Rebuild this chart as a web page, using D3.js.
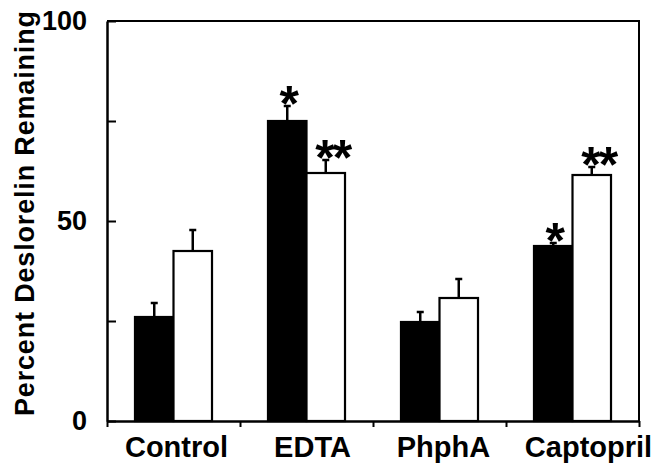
<!DOCTYPE html>
<html><head><meta charset="utf-8">
<script src="https://cdn.jsdelivr.net/npm/d3@7"></script>
<style>body{margin:0;background:#fff}svg{display:block}</style>
</head><body><svg id="c" width="665" height="466"></svg>
<script>
const categories = ["Control", "EDTA", "PhphA", "Captopril"];
const series = ["filled", "open"];
const filledValues = [26, 75, 24.75, 43.75];
const filledErrors = [3.5, 3.75, 2.5, 0.75];
const openValues = [42.5, 62, 30.75, 61.5];
const openErrors = [5.25, 3.25, 4.75, 2];
const filledMarks = ["", "*", "", "*"];
const openMarks = ["", "**", "", "**"];
const yTickValues = [0, 25, 50, 75, 100];
const yTickLabels = ["0", "", "50", "", "100"];
const yTitle = "Percent Deslorelin Remaining";

const W = 665, H = 466;
const m = {left: 107, top: 21, right: 26, bottom: 45};
const svg = d3.select("#c");
const font = "'Liberation Sans', Arial, Helvetica, sans-serif";

const x0 = d3.scaleBand().domain(categories).range([m.left, W - m.right]).padding(0);
const x1 = d3.scaleBand().domain(series).range([0, x0.bandwidth()]).paddingInner(0).paddingOuter(0.727);
const y = d3.scaleLinear().domain([0, 100]).range([H - m.bottom, m.top]);

const rows = categories.map((c, i) => ({
  cat: c,
  bars: [
    {s: "filled", v: filledValues[i], e: filledErrors[i], mark: filledMarks[i]},
    {s: "open", v: openValues[i], e: openErrors[i], mark: openMarks[i]}
  ]
}));

const g = svg.append("g");
const grp = g.selectAll("g.cat").data(rows).join("g")
  .attr("transform", d => `translate(${x0(d.cat)},0)`);

// error bars
grp.selectAll("g.err").data(d => d.bars).join("g").each(function(d) {
  const cx = x1(d.s) + x1.bandwidth() / 2;
  const s = d3.select(this);
  s.append("line").attr("x1", cx).attr("x2", cx).attr("y1", y(d.v)).attr("y2", y(d.v + d.e))
    .attr("stroke", "#000").attr("stroke-width", 2.5);
  s.append("line").attr("x1", cx - 3.5).attr("x2", cx + 3.5).attr("y1", y(d.v + d.e)).attr("y2", y(d.v + d.e))
    .attr("stroke", "#000").attr("stroke-width", 2.5);
});

grp.selectAll("rect").data(d => d.bars).join("rect")
  .attr("x", d => x1(d.s))
  .attr("width", x1.bandwidth())
  .attr("y", d => y(d.v))
  .attr("height", d => y(0) - y(d.v))
  .attr("fill", d => d.s === "filled" ? "#000" : "#fff")
  .attr("stroke", "#000").attr("stroke-width", 2.2);

// significance marks
grp.selectAll("text.mark").data(d => d.bars.filter(b => b.mark)).join("text")
  .attr("class", "mark")
  .attr("x", d => x1(d.s) + x1.bandwidth() / 2 + (d.mark.length > 1 ? 7 : 2))
  .attr("y", d => y(d.v + d.e) - 13 + 28)
  .attr("text-anchor", "middle")
  .attr("font-family", font).attr("font-weight", "bold").attr("font-size", 50)
  .attr("letter-spacing", d => d.mark.length > 1 ? -2 : 0)
  .text(d => d.mark);

// frame (top and right)
svg.append("path")
  .attr("d", `M${m.left},${m.top}H${W - m.right}V${H - m.bottom}`)
  .attr("fill", "none").attr("stroke", "#000").attr("stroke-width", 2);

// y axis
const yAxis = d3.axisLeft(y).tickValues(yTickValues)
  .tickFormat((d, i) => yTickLabels[i]).tickSizeInner(-9).tickSizeOuter(0).tickPadding(20);
const ya = svg.append("g").attr("transform", `translate(${m.left},0)`).call(yAxis);
ya.select(".domain").attr("stroke-width", 2.5);
ya.selectAll(".tick line").attr("stroke-width", 2);
ya.selectAll(".tick text").attr("font-family", font).attr("font-weight", "bold")
  .attr("font-size", 27).attr("fill", "#000");

// x axis: boundary ticks
const xb = d3.scaleLinear().domain([0, categories.length]).range([m.left, W - m.right]);
const xAxis = d3.axisBottom(xb).tickValues(d3.range(categories.length + 1))
  .tickFormat("").tickSizeInner(6).tickSizeOuter(0);
const xa = svg.append("g").attr("transform", `translate(0,${H - m.bottom})`).call(xAxis);
xa.select(".domain").attr("stroke-width", 2.5);
xa.selectAll(".tick line").attr("stroke-width", 2);

// category labels
const labelShift = {Control: 3, EDTA: 6, PhphA: 4, Captopril: 16};
svg.append("g").selectAll("text").data(categories).join("text")
  .attr("x", d => x0(d) + x0.bandwidth() / 2 + labelShift[d])
  .attr("y", H - m.bottom + 36)
  .attr("text-anchor", "middle")
  .attr("font-family", font).attr("font-weight", "bold").attr("font-size", 29)
  .text(d => d);

// y title
svg.append("text")
  .attr("transform", `translate(34,${(10 + 417) / 2}) rotate(-90)`)
  .attr("text-anchor", "middle")
  .attr("font-family", font).attr("font-weight", "bold").attr("font-size", 27)
  .attr("textLength", 405).attr("lengthAdjust", "spacing")
  .text(yTitle);
</script></body></html>
